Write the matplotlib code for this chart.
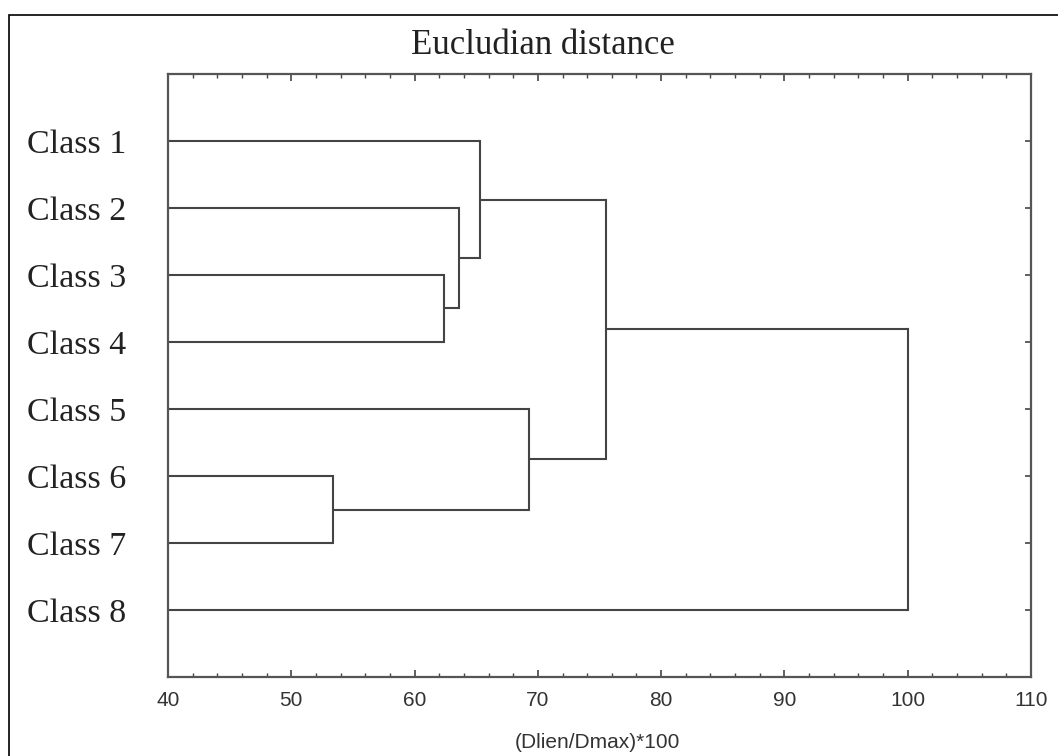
import matplotlib
matplotlib.use("Agg")
import matplotlib.pyplot as plt
from matplotlib.patches import Rectangle
from matplotlib.ticker import MultipleLocator

# ---- data ----
classes = ["Class 1", "Class 2", "Class 3", "Class 4",
           "Class 5", "Class 6", "Class 7", "Class 8"]
# merges: (child_a, child_b, linkage distance); leaves 0..7, new nodes 8..
merge_a = [2, 1, 0, 5, 4, 10, 13]
merge_b = [3, 8, 9, 6, 11, 12, 7]
merge_h = [62.4, 63.6, 65.3, 53.4, 69.3, 75.5, 100.0]
x_ticks = [40, 50, 60, 70, 80, 90, 100, 110]
title = "Eucludian distance"
xlabel = "(Dlien/Dmax)*100"

W, H = 1058, 756
fig = plt.figure(figsize=(W / 100, H / 100), dpi=100)
fig.patch.set_facecolor("white")

# outer frame
fig.patches.append(Rectangle((9 / W, -0.1), 1.2, (H - 15) / H + 0.1,
                             transform=fig.transFigure, fill=False,
                             edgecolor="black", linewidth=1.2, zorder=0))

ax = fig.add_axes([168 / W, (H - 677) / H, (1031 - 168) / W, (677 - 74) / H])

line_col = "#444444"
lw = 1.5
xmin = x_ticks[0]

# node positions
node_x = {i: xmin for i in range(len(classes))}
node_y = {i: i + 1 for i in range(len(classes))}
nid = len(classes)
for a, b, h in zip(merge_a, merge_b, merge_h):
    ya, yb = node_y[a], node_y[b]
    ax.plot([node_x[a], h], [ya, ya], color=line_col, lw=lw, solid_capstyle="butt")
    ax.plot([node_x[b], h], [yb, yb], color=line_col, lw=lw, solid_capstyle="butt")
    ax.plot([h, h], [ya, yb], color=line_col, lw=lw, solid_capstyle="projecting")
    node_x[nid] = h
    node_y[nid] = (ya + yb) / 2
    nid += 1

ax.set_xlim(x_ticks[0], x_ticks[-1])
ax.set_ylim(len(classes) + 1, 0)

ax.set_xticks(x_ticks)
ax.xaxis.set_minor_locator(MultipleLocator(2))
ax.set_yticks(range(1, len(classes) + 1))
ax.set_yticklabels(classes, fontfamily="Liberation Serif", fontsize=24.5, color="#222222")
ax.set_xticklabels([str(v) for v in x_ticks], fontfamily="Liberation Sans",
                   fontsize=15, color="#333333")

ax.tick_params(axis="x", which="major", direction="in", length=5, width=1.2,
               top=True, bottom=True, pad=10, color="#444444")
ax.tick_params(axis="x", which="minor", direction="in", length=3, width=1.0,
               top=True, bottom=True, color="#444444")
ax.tick_params(axis="y", which="major", direction="in", length=4, width=1.2,
               left=True, right=True, pad=30, color="#444444")

for sp in ax.spines.values():
    sp.set_color("#555555")
    sp.set_linewidth(1.6)

fig.text(543 / W, (H - 54) / H, title, ha="center", va="baseline",
         fontfamily="Liberation Serif", fontsize=25, color="#222222")
fig.text(597 / W, (H - 748) / H, xlabel, ha="center", va="baseline",
         fontfamily="Liberation Sans", fontsize=15, color="#333333")

fig.savefig("out.png", dpi=100, facecolor="white")
